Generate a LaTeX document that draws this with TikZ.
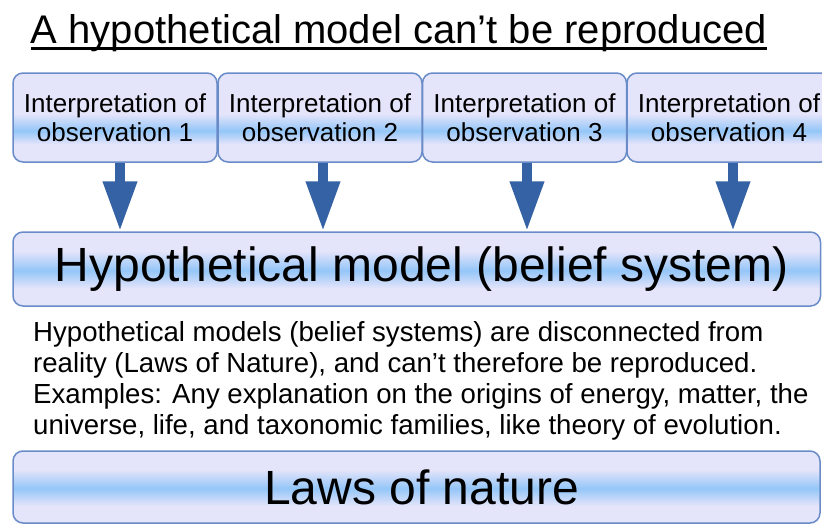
\documentclass[tikz,border=0pt]{standalone}
\usepackage{fontspec}
\setmainfont{Liberation Sans}
\usetikzlibrary{arrows.meta}
\definecolor{lav}{RGB}{228,228,250}
\definecolor{bandblue}{RGB}{148,198,248}
\definecolor{boxline}{RGB}{105,140,200}
\definecolor{arrowblue}{RGB}{52,98,165}
\pgfdeclareverticalshading{wideband}{100bp}{color(0bp)=(lav); color(37bp)=(lav); color(49bp)=(bandblue); color(62bp)=(lav); color(100bp)=(lav)}
\pgfdeclareverticalshading{smallband}{100bp}{color(0bp)=(lav); color(35bp)=(lav); color(42.5bp)=(bandblue); color(52bp)=(lav); color(100bp)=(lav)}
\tikzset{
  obsbox/.style={shade, shading=smallband, draw=boxline, line width=1.5pt, rounded corners=10pt,
    minimum width=204pt, minimum height=89pt, inner sep=0pt, align=center,
    font=\fontsize{26}{29}\selectfont},
  bigbox/.style={shade, shading=wideband, draw=boxline, line width=1.5pt, rounded corners=10pt,
    inner sep=0pt, align=center, font=\fontsize{48}{52}\selectfont},
  downarrow/.style={arrowblue, line width=10pt, -{Triangle[length=50pt 0, width=32pt 0]}}
}
\begin{document}
\begin{tikzpicture}[x=1pt,y=-1pt]
\useasboundingbox (0,0) rectangle (822,525);
\clip (0,0) rectangle (822,525);
\fill[white] (0,0) rectangle (822,525);

\node[anchor=base, inner sep=0pt, font=\fontsize{40}{44}\selectfont] (title) at (399,43) {A hypothetical model can’t be reproduced};
\draw[line width=3pt] ([yshift=-5pt]title.base west) -- ([yshift=-5pt]title.base east);

\node[bigbox, minimum width=807.5pt, minimum height=74pt] (hyp) at (416.75,269) {\hspace*{10pt}Hypothetical model (belief system)};
\node[bigbox, minimum width=807pt, minimum height=72pt] (laws) at (416.5,487) {\hspace*{10pt}Laws of nature};

\draw[downarrow] (120,162) coordinate (a1) -- (a1 |- hyp.north);
\draw[downarrow] (323,162) coordinate (a2) -- (a2 |- hyp.north);
\draw[downarrow] (527,162) coordinate (a3) -- (a3 |- hyp.north);
\draw[downarrow] (733,162) coordinate (a4) -- (a4 |- hyp.north);

\node[obsbox] (b1) at (115,117.5) {Interpretation of\\observation 1};
\node[obsbox] (b2) at (320,117.5) {Interpretation of\\observation 2};
\node[obsbox] (b3) at (524.5,117.5) {Interpretation of\\observation 3};
\node[obsbox] (b4) at (729,117.5) {Interpretation of\\observation 4};

\node[anchor=base west, inner sep=0pt, align=left, font=\fontsize{27.6}{31}\selectfont] (desc) at (33,434)
{Hypothetical models (belief systems) are disconnected from\\
reality (Laws of Nature), and can’t therefore be reproduced.\\
Examples: Any explanation on the origins of energy, matter, the\\
universe, life, and taxonomic families, like theory of evolution.};
\end{tikzpicture}
\end{document}
